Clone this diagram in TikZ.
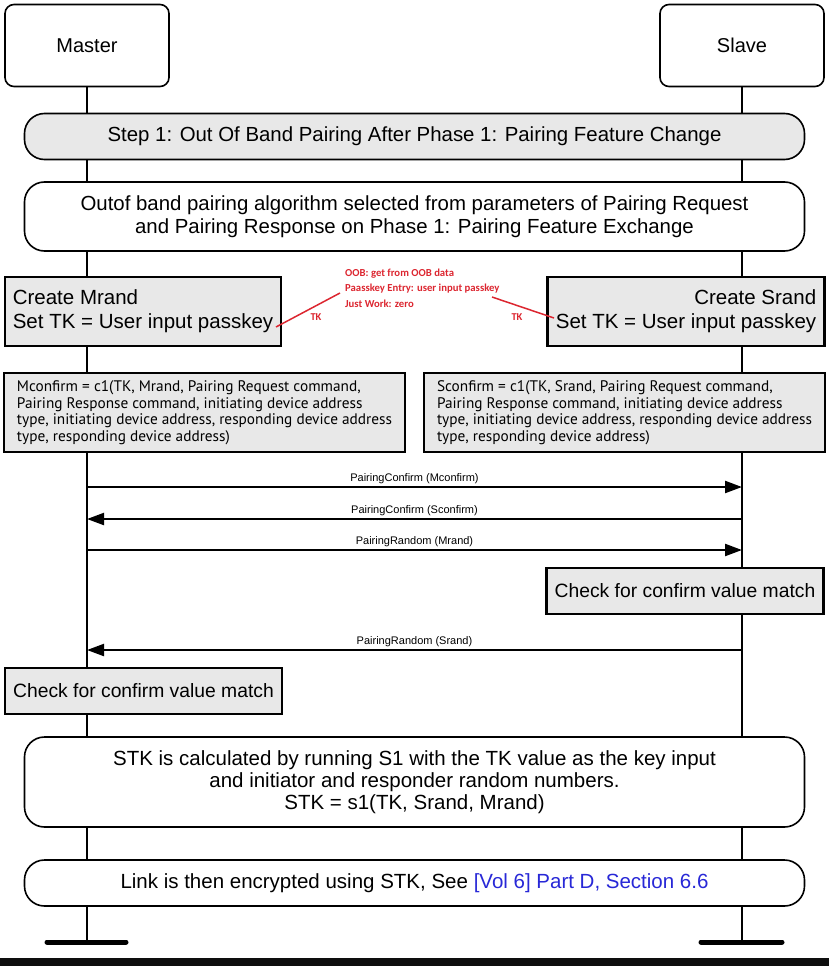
\documentclass[tikz,border=0pt]{standalone}
\usepackage{fontspec}
\setmainfont{Liberation Sans}
\newfontfamily\mfont{PT Sans}
\newfontfamily\rfont{Carlito}
\usetikzlibrary{arrows.meta,backgrounds}
\definecolor{boxgray}{RGB}{232,232,232}
\definecolor{annred}{RGB}{220,38,48}
\definecolor{linkblue}{RGB}{40,40,215}
\definecolor{bandblack}{RGB}{14,14,14}
\begin{document}
\begin{tikzpicture}[x=1pt,y=-1pt,
  actor/.style={draw, line width=1.6pt, rounded corners=9pt, minimum width=164pt, minimum height=82pt, fill=white, font=\fontsize{20}{24}\selectfont, inner sep=0pt},
  band/.style={draw, line width=1.6pt, fill=white, minimum width=780pt, inner sep=0pt, align=center, font=\fontsize{20.4}{23}\selectfont},
  rbox/.style={draw, line width=2.6pt, fill=boxgray, inner sep=0pt},
  big/.style={font=\fontsize{20.5}{24}\selectfont},
  calcbox/.style={font=\mfont\fontsize{15.3}{16.5}\selectfont, align=left},
  life/.style={line width=1.6pt},
  msg/.style={line width=2.2pt, -{Triangle[length=17pt,width=12pt]}},
  msglabel/.style={font=\fontsize{11}{13}\selectfont, inner sep=2pt},
  ann/.style={text=annred, font=\rfont\bfseries\fontsize{10.7}{15.5}\selectfont, inner sep=0pt},
  tklabel/.style={text=annred, font=\rfont\bfseries\fontsize{10.5}{11}\selectfont, inner sep=0pt},
  annline/.style={draw=annred, line width=1.5pt},
]
\useasboundingbox (0,0) rectangle (829,966);

\node[actor] (master) at (87,45.5) {Master};
\node[actor] (slave) at (742,45.5) {Slave};

\node[band, fill=boxgray, rounded corners=20pt, minimum height=46pt] (step) at (414.5,136.5) {Step 1: Out Of Band Pairing After Phase 1: Pairing Feature Change};
\node[band, rounded corners=20pt, minimum height=69pt] (oob) at (414.5,216.5) {Outof band pairing algorithm selected from parameters of Pairing Request\\and Pairing Response on Phase 1: Pairing Feature Exchange};

\node[rbox, minimum width=276pt, minimum height=69pt, align=left, big] (cm) at (143,311.5) {Create Mrand\\Set TK = User input passkey};
\node[rbox, minimum width=277pt, minimum height=69pt, align=right, big] (cs) at (686,311.5) {Create Srand\\Set TK = User input passkey};

\node[ann, align=left, anchor=west] (note) at (345,288) {OOB: get from OOB data\\Paasskey Entry: user input passkey\\Just Work: zero};
\node[tklabel] (tk1) at (316,317) {TK};
\node[tklabel] (tk2) at (517,317) {TK};
\coordinate (tkL) at (276,327);
\coordinate (nl) at (340,293);
\coordinate (nr) at (492,297);
\coordinate (tkR) at (554,318);
\draw[annline] (tkL) -- (nl);
\draw[annline] (nr) -- (tkR);

\node[rbox, minimum width=401pt, minimum height=79pt, calcbox] (mc) at (204.5,412.5) {Mconfirm = c1(TK, Mrand, Pairing Request command,\\Pairing Response command, initiating device address\\type, initiating device address, responding device address\\type, responding device address)};
\node[rbox, minimum width=401pt, minimum height=79pt, calcbox] (sc) at (624.5,412.5) {Sconfirm = c1(TK, Srand, Pairing Request command,\\Pairing Response command, initiating device address\\type, initiating device address, responding device address\\type, responding device address)};

\coordinate (m1) at (87,487); \coordinate (s1) at (742,487);
\coordinate (m2) at (87,519); \coordinate (s2) at (742,519);
\coordinate (m3) at (87,550); \coordinate (s3) at (742,550);
\coordinate (m4) at (87,650); \coordinate (s4) at (742,650);
\draw[msg] (m1) -- node[msglabel, above] {PairingConfirm (Mconfirm)} (s1);
\draw[msg] (s2) -- node[msglabel, above] {PairingConfirm (Sconfirm)} (m2);
\draw[msg] (m3) -- node[msglabel, above] {PairingRandom (Mrand)} (s3);

\node[rbox, minimum width=277pt, minimum height=46pt, font=\fontsize{19.3}{23}\selectfont] (cks) at (685,591) {Check for confirm value match};
\draw[msg] (s4) -- node[msglabel, above] {PairingRandom (Srand)} (m4);
\node[rbox, minimum width=277pt, minimum height=46pt, font=\fontsize{19.3}{23}\selectfont] (ckm) at (143.5,691) {Check for confirm value match};

\node[band, rounded corners=20pt, minimum height=90pt, font=\fontsize{20.5}{22}\selectfont] (stk) at (414.5,782) {STK is calculated by running S1 with the TK value as the key input\\and initiator and responder random numbers.\\STK = s1(TK, Srand, Mrand)};
\node[band, rounded corners=20pt, minimum height=46pt, font=\fontsize{20.5}{23}\selectfont] (link) at (414.5,883) {Link is then encrypted using STK, See \textcolor{linkblue}{[Vol 6] Part D, Section 6.6}};

\coordinate (mend) at (87,942);
\coordinate (send) at (742,942);
\coordinate (mbl) at (47,942); \coordinate (mbr) at (126,942);
\coordinate (sbl) at (701,942); \coordinate (sbr) at (782,942);
\begin{scope}[on background layer]
  \draw[life] (master.south) -- (mend);
  \draw[life] (slave.south) -- (send);
\end{scope}
\draw[line width=5pt, line cap=round] (mbl) -- (mbr);
\draw[line width=5pt, line cap=round] (sbl) -- (sbr);
\fill[bandblack] (0,958) rectangle (829,966);
\end{tikzpicture}
\end{document}
